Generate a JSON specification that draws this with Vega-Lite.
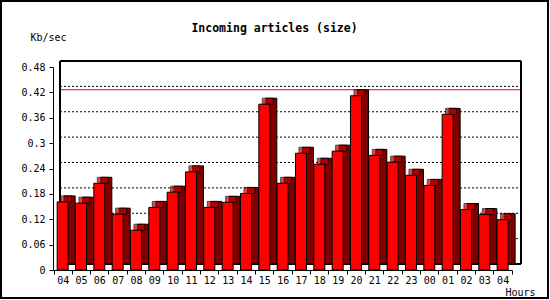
{
  "$schema": "https://vega.github.io/schema/vega-lite/v6.json",
  "width": 547,
  "height": 297,
  "autosize": {"type": "none"},
  "padding": {"left": 1, "top": 1, "right": 2, "bottom": 2},
  "background": "white",
  "title": {
    "text": "Incoming articles (size)",
    "font": "DejaVu Sans Mono",
    "fontSize": 11.5,
    "fontWeight": "bold",
    "color": "black",
    "anchor": "middle",
    "frame": "group",
    "offset": -42,
    "baseline": "alphabetic"
  },
  "datasets": {
    "grid": [
      {"v": 0.06}, {"v": 0.12}, {"v": 0.18}, {"v": 0.24}, {"v": 0.3}, {"v": 0.36}, {"v": 0.42}
    ]
  },
  "data": {
    "values": [
      {"slot": "1-04", "kb": 0.161},
      {"slot": "1-05", "kb": 0.158},
      {"slot": "1-06", "kb": 0.205},
      {"slot": "1-07", "kb": 0.132},
      {"slot": "1-08", "kb": 0.094},
      {"slot": "1-09", "kb": 0.148},
      {"slot": "1-10", "kb": 0.184},
      {"slot": "1-11", "kb": 0.232},
      {"slot": "1-12", "kb": 0.148},
      {"slot": "1-13", "kb": 0.160},
      {"slot": "1-14", "kb": 0.181},
      {"slot": "1-15", "kb": 0.392},
      {"slot": "1-16", "kb": 0.205},
      {"slot": "1-17", "kb": 0.276},
      {"slot": "1-18", "kb": 0.250},
      {"slot": "1-19", "kb": 0.281},
      {"slot": "1-20", "kb": 0.412},
      {"slot": "1-21", "kb": 0.271},
      {"slot": "1-22", "kb": 0.255},
      {"slot": "1-23", "kb": 0.224},
      {"slot": "2-00", "kb": 0.200},
      {"slot": "2-01", "kb": 0.368},
      {"slot": "2-02", "kb": 0.143},
      {"slot": "2-03", "kb": 0.131},
      {"slot": "2-04", "kb": 0.119}
    ]
  },
  "layer": [
    {
      "encoding": {
        "x": {"datum": 0, "type": "quantitative", "scale": {"domain": [0, 1], "range": [59, 520], "nice": false, "zero": false}, "axis": null},
        "x2": {"datum": 1}
      },
      "layer": [
        {
          "data": {"name": "grid"},
          "mark": {"type": "rect", "fill": "transparent", "stroke": "black", "strokeWidth": 1, "strokeDash": [2, 2]},
          "encoding": {
            "y": {"field": "v", "type": "quantitative", "scale": {"domain": [0, 0.48], "range": [263, 60], "nice": false}, "axis": null},
            "y2": {"datum": 0}
          }
        },
        {
          "transform": [
            {"joinaggregate": [{"op": "max", "field": "kb", "as": "peak"}]},
            {"filter": "datum.kb === datum.peak"}
          ],
          "mark": {"type": "rect", "fill": "transparent", "stroke": "#ee0000", "strokeWidth": 1},
          "encoding": {
            "y": {"field": "kb", "type": "quantitative", "scale": {"domain": [0, 0.48], "range": [263, 60], "nice": false}, "axis": null},
            "y2": {"datum": 0}
          }
        },
        {
          "mark": {"type": "rect", "fill": "transparent", "stroke": "black", "strokeWidth": 1},
          "encoding": {
            "y": {"datum": 0, "type": "quantitative", "scale": {"domain": [0, 0.48], "range": [263, 60], "nice": false}, "axis": null},
            "y2": {"datum": 0.48}
          }
        }
      ]
    },
    {
      "encoding": {
        "x": {
          "field": "slot", "type": "ordinal", "sort": null,
          "scale": {"range": [52.5, 510.8], "paddingInner": 0, "paddingOuter": 0},
          "axis": {
            "orient": "bottom", "offset": -28, "labelExpr": "slice(datum.label, 2)", "labelAngle": 0,
            "tickBand": "extent", "tickSize": 4, "labelPadding": 1,
            "labelFont": "DejaVu Sans Mono", "labelFontSize": 10, "labelColor": "black",
            "domainColor": "black", "tickColor": "black", "grid": false,
            "title": "Hours", "titleX": 504, "titleY": 25, "titleAlign": "left", "titleBaseline": "alphabetic",
            "titleFont": "DejaVu Sans Mono", "titleFontSize": 10, "titleFontWeight": "normal", "titleColor": "black"
          }
        },
        "y": {
          "field": "kb", "type": "quantitative",
          "scale": {"domain": [0, 0.48], "range": [269, 66], "nice": false},
          "axis": {
            "orient": "left", "offset": -52, "values": [0, 0.06, 0.12, 0.18, 0.24, 0.3, 0.36, 0.42, 0.48],
            "format": "~g", "tickSize": 4, "labelPadding": 4, "labelFlush": false,
            "labelFont": "DejaVu Sans Mono", "labelFontSize": 10, "labelColor": "black",
            "domainColor": "black", "tickColor": "black", "grid": false,
            "title": "Kb/sec", "titleAngle": 0, "titleAlign": "left", "titleBaseline": "alphabetic",
            "titleX": -23, "titleY": 39,
            "titleFont": "DejaVu Sans Mono", "titleFontSize": 10, "titleFontWeight": "normal", "titleColor": "black"
          }
        }
      },
      "layer": [
        {"mark": {"type": "bar", "size": 11, "color": "#800000", "stroke": "black", "strokeWidth": 1, "xOffset": 7, "x2Offset": 7, "yOffset": -6, "y2Offset": -6}},
        {"mark": {"type": "tick", "size": 11, "thickness": 6, "color": "#c80000", "stroke": "black", "strokeWidth": 1, "xOffset": 3.5, "yOffset": -3}},
        {"mark": {"type": "bar", "size": 11, "color": "#ff0000", "stroke": "black", "strokeWidth": 1}}
      ]
    }
  ],
  "resolve": {
    "scale": {"x": "independent", "y": "independent"},
    "axis": {"x": "independent", "y": "independent"}
  },
  "config": {
    "view": {"stroke": "black", "strokeWidth": 2},
    "font": "DejaVu Sans Mono"
  }
}
